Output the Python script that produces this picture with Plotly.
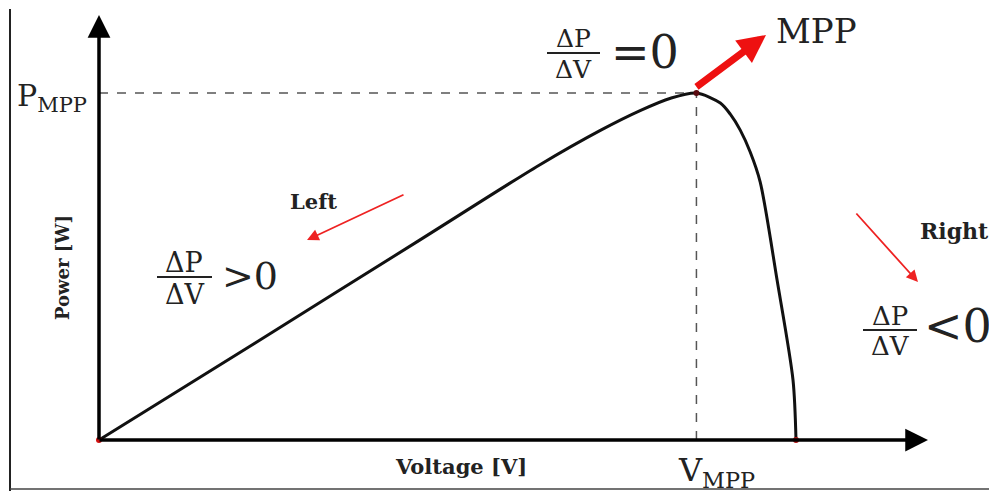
import plotly.graph_objects as go

# ---- data (arbitrary units) ----
voltage = [0.0, 7.6, 16.1, 22.1, 25.2, 27.2, 28.7, 30.0, 31.2, 31.7, 32.2, 32.7, 33.2, 34.05, 34.85, 35.0]
power = [0.0, 27.1, 57.6, 79.2, 89.3, 95.0, 98.5, 100.0, 97.1, 93.9, 89.3, 83.0, 74.4, 46.1, 17.3, 0.0]
x_label = "Voltage [V]"
y_label = "Power [W]"

# ---- layout helpers (reference pixel -> data, layout only) ----
PAGE_OFF = 8                # browser body margin
W, H = 997, 491
OX, OY = 99, 440            # pixel position of origin
V_OC = voltage[-1]
P_MAX = max(power)
i_mpp = power.index(P_MAX)
V_MPP = voltage[i_mpp]
SX = V_OC / (796 - OX)
SY = P_MAX / (OY - 93)


def X(px):
    return (px - OX) * SX


def Y(py):
    return (OY - py) * SY


SERIF = "DejaVu Serif"
fig = go.Figure()

# curve
fig.add_trace(go.Scatter(x=voltage, y=power, mode="lines",
                         line=dict(color="#111111", width=3, shape="spline", smoothing=0.8),
                         hoverinfo="skip", showlegend=False))
# red points
fig.add_trace(go.Scatter(x=[voltage[0], V_MPP, V_OC], y=[0, P_MAX, 0], mode="markers",
                         marker=dict(color=["#d01010", "#5a0a10", "#b01010"], size=6),
                         hoverinfo="skip", showlegend=False))

shapes = [
    # dashed guides
    dict(type="line", x0=0, y0=P_MAX, x1=V_MPP, y1=P_MAX, xref="x", yref="y",
         line=dict(color="#555555", width=1.5, dash="dash"), layer="below"),
    dict(type="line", x0=V_MPP, y0=0, x1=V_MPP, y1=P_MAX, xref="x", yref="y",
         line=dict(color="#555555", width=1.5, dash="dash"), layer="below"),
    # frame
    dict(type="line", x0=X(10), y0=Y(9), x1=X(10), y1=Y(491), xref="x", yref="y",
         line=dict(color="#222222", width=2)),
    dict(type="line", x0=X(10), y0=Y(489), x1=X(997), y1=Y(489), xref="x", yref="y",
         line=dict(color="#444444", width=1.5)),
    dict(type="line", x0=X(993), y0=Y(0), x1=X(993), y1=Y(491), xref="x", yref="y",
         line=dict(color="#e4e4e4", width=1)),
    # fraction bars
    dict(type="line", x0=X(157), y0=Y(277), x1=X(212), y1=Y(277), xref="x", yref="y",
         line=dict(color="#222222", width=2)),
    dict(type="line", x0=X(547), y0=Y(53), x1=X(600), y1=Y(53), xref="x", yref="y",
         line=dict(color="#222222", width=2)),
    dict(type="line", x0=X(863), y0=Y(330), x1=X(917), y1=Y(330), xref="x", yref="y",
         line=dict(color="#222222", width=2)),
]

anns = []


def arrow(x0, y0, x1, y1, color, width, size, head=2):
    anns.append(dict(x=X(x1), y=Y(y1), ax=X(x0), ay=Y(y0), xref="x", yref="y",
                     axref="x", ayref="y", text="", showarrow=True, arrowhead=head,
                     arrowsize=size, arrowwidth=width, arrowcolor=color, standoff=0))


def text(px, py, s, size, bold=False, color="#222222", xanchor="center", angle=0):
    if bold:
        s = "<b>" + s + "</b>"
    anns.append(dict(x=X(px), y=Y(py), xref="x", yref="y", text=s, showarrow=False,
                     xanchor=xanchor, yanchor="middle", textangle=angle,
                     font=dict(family=SERIF, size=size, color=color)))


# axes with arrows
arrow(OX, OY + 1, OX, 15, "#000000", 3.5, 1.3)
arrow(OX - 1, OY, 928, OY, "#000000", 3.5, 1.3)
# red arrows
arrow(695, 88, 766, 35, "#ee1111", 7, 0.8)
arrow(405, 194, 307, 240, "#ee2222", 1.8, 1.3)
arrow(855, 212, 918, 282, "#ee2222", 1.8, 1.3)

# axis labels
text(461, 466, x_label, 21, bold=True)
text(62, 268, y_label, 18, bold=True, angle=-90)
text(52, 97, "P<sub>MPP</sub>", 30)
text(716, 472, "V<sub>MPP</sub>", 32)

# region labels
text(313, 201, "Left", 21, bold=True)
text(954, 231, "Right", 22, bold=True)
text(816, 31, "MPP", 34)

# fractions
text(184, 262, "ΔP", 27)
text(184, 294, "ΔV", 27)
text(220, 276, "&gt;0", 38, xanchor="left")
text(573, 38, "ΔP", 25)
text(573, 69, "ΔV", 25)
text(609, 52, "=0", 46, xanchor="left")
text(890, 316, "ΔP", 26)
text(890, 346, "ΔV", 26)
text(922, 326, "&lt;0", 46, xanchor="left")

fig.update_layout(
    width=W - PAGE_OFF, height=H - PAGE_OFF, autosize=False,
    margin=dict(l=0, r=0, t=0, b=0),
    paper_bgcolor="white", plot_bgcolor="white",
    xaxis=dict(range=[X(PAGE_OFF), X(W)], visible=False, fixedrange=True),
    yaxis=dict(range=[Y(H), Y(PAGE_OFF)], visible=False, fixedrange=True),
    shapes=shapes, annotations=anns, showlegend=False,
)

fig.write_html("out.html")
